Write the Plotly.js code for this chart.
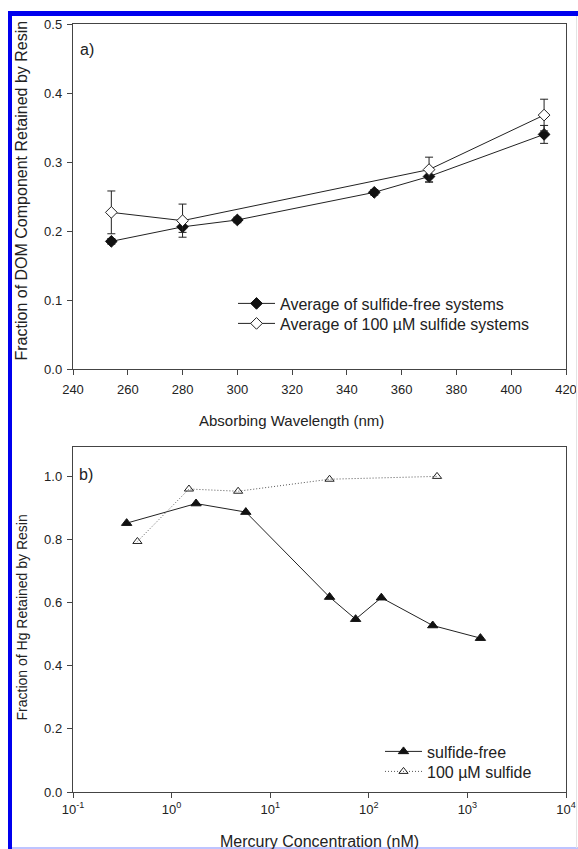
<!DOCTYPE html>
<html>
<head>
<meta charset="utf-8">
<script src="https://cdn.plot.ly/plotly-3.0.1.min.js"></script>
<style>
html,body{margin:0;padding:0;background:#fff;}
#chart{width:578px;height:849px;}
</style>
</head>
<body>
<div id="chart"></div>
<script>
// Panel a: DOM component retained vs absorbing wavelength
const wlFree = [254, 280, 300, 350, 370, 412];
const fracFree = [0.185, 0.206, 0.216, 0.256, 0.279, 0.340];
const errFree = [0.004, 0.008, 0.004, 0.004, 0.008, 0.013];
const wlSulf = [254, 280, 370, 412];
const fracSulf = [0.227, 0.215, 0.289, 0.368];
const errSulf = [0.031, 0.024, 0.018, 0.023];

// Panel b: Hg retained vs mercury concentration (nM)
const hgFreeX = [0.35, 1.77, 5.66, 40, 73.5, 134, 445, 1355];
const hgFreeY = [0.851, 0.913, 0.886, 0.617, 0.547, 0.615, 0.527, 0.487];
const hgSulfX = [0.45, 1.50, 4.73, 40, 492];
const hgSulfY = [0.793, 0.959, 0.952, 0.990, 0.999];

const wlTicks = [240, 260, 280, 300, 320, 340, 360, 380, 400, 420];
const logTickVals = [0.1, 1, 10, 100, 1000, 10000];
const logTickText = ['10<sup>-1</sup>', '10<sup>0</sup>', '10<sup>1</sup>', '10<sup>2</sup>', '10<sup>3</sup>', '10<sup>4</sup>'];

const legendA = ['Average of sulfide-free systems', 'Average of 100 µM sulfide systems'];
const legendB = ['sulfide-free', '100 µM sulfide'];
const titles = {
  xA: 'Absorbing Wavelength (nm)',
  yA: 'Fraction of DOM Component Retained by Resin',
  xB: 'Mercury Concentration (nM)',
  yB: 'Fraction of Hg Retained by Resin'
};

const FONT = 'Liberation Sans, Arial, sans-serif';
const INK = '#222';

const traces = [
  {
    x: wlFree, y: fracFree, xaxis: 'x2', yaxis: 'y2', name: legendA[0], legend: 'legend',
    mode: 'lines+markers', type: 'scatter',
    line: {color: INK, width: 1},
    marker: {symbol: 'diamond', size: 9, color: '#111', line: {color: '#111', width: 1}},
    error_y: {type: 'data', array: errFree, visible: true, color: INK, thickness: 1, width: 4}
  },
  {
    x: wlSulf, y: fracSulf, xaxis: 'x2', yaxis: 'y2', name: legendA[1], legend: 'legend2',
    mode: 'lines+markers', type: 'scatter',
    line: {color: INK, width: 1},
    marker: {symbol: 'diamond', size: 9, color: '#fff', line: {color: INK, width: 1}},
    error_y: {type: 'data', array: errSulf, visible: true, color: INK, thickness: 1, width: 4}
  },
  {
    x: hgFreeX, y: hgFreeY, xaxis: 'x', yaxis: 'y', name: legendB[0], legend: 'legend3',
    mode: 'lines+markers', type: 'scatter',
    line: {color: INK, width: 1},
    marker: {symbol: 'triangle-up', size: 9, color: '#111', line: {color: '#111', width: 1}}
  },
  {
    x: hgSulfX, y: hgSulfY, xaxis: 'x', yaxis: 'y', name: legendB[1], legend: 'legend4',
    mode: 'lines+markers', type: 'scatter',
    line: {color: '#555', width: 1, dash: '1px,2px'},
    marker: {symbol: 'triangle-up-open', size: 8, color: INK, line: {color: INK, width: 1}}
  }
];

// pixel -> paper helpers (plot area: x 73..566, y 24..792)
const L = 73, R = 566, T = 24, B = 792;
const px = v => (v - L) / (R - L);
const py = v => (B - v) / (B - T);

const axisCommon = {
  showline: true, linecolor: '#444', linewidth: 1.2, mirror: true,
  ticks: 'outside', ticklen: 5, tickwidth: 1, tickcolor: '#444',
  showgrid: false, zeroline: false,
  tickfont: {family: FONT, size: 13, color: INK},
  fixedrange: true
};

function label(text, x, y, size, angle) {
  return {text: text, xref: 'paper', yref: 'paper', x: px(x), y: py(y),
    xanchor: 'center', yanchor: 'middle', textangle: angle || 0,
    showarrow: false, font: {family: FONT, size: size, color: INK}};
}

function legendAt(x, rowCenterY) {
  return {
    x: px(x), y: py(rowCenterY - 17.5), xanchor: 'left', yanchor: 'top',
    bgcolor: 'rgba(0,0,0,0)', font: {family: FONT, size: 16, color: INK},
    itemwidth: 37
  };
}

const layout = {
  width: 578, height: 849,
  margin: {l: L, r: 578 - R, t: T, b: 849 - B},
  paper_bgcolor: '#fff', plot_bgcolor: '#fff',
  font: {family: FONT, color: INK},
  showlegend: true,
  xaxis2: Object.assign({}, axisCommon, {
    anchor: 'y2', range: [240, 420], tickvals: wlTicks, ticklabelstandoff: 3
  }),
  yaxis2: Object.assign({}, axisCommon, {
    anchor: 'x2', domain: [py(369), 1], range: [0, 0.5], dtick: 0.1, tickformat: '.1f',
    ticklabelstandoff: 2
  }),
  xaxis: Object.assign({}, axisCommon, {
    anchor: 'y', type: 'log', range: [-1, 4], tickvals: logTickVals, ticktext: logTickText
  }),
  yaxis: Object.assign({}, axisCommon, {
    anchor: 'x', domain: [0, py(447)], range: [0, 1.092], dtick: 0.2, tickformat: '.1f',
    ticklabelstandoff: 2
  }),
  legend: legendAt(233, 304),
  legend2: legendAt(233, 324),
  legend3: legendAt(380, 752),
  legend4: legendAt(380, 772),
  annotations: [
    label('a)', 87, 49, 16),
    label('b)', 86, 474, 16),
    label(titles.xA, 291.5, 421, 15),
    label(titles.yA, 21.5, 191, 16, -90),
    label(titles.xB, 319, 841, 16),
    label(titles.yB, 21.5, 618, 14, -90)
  ],
  shapes: [
    {type: 'rect', xref: 'paper', yref: 'paper', x0: px(8), x1: px(578), y0: py(16), y1: py(11),
     fillcolor: '#0000ee', line: {width: 0}, layer: 'above'},
    {type: 'rect', xref: 'paper', yref: 'paper', x0: px(8), x1: px(12), y0: py(849), y1: py(11),
     fillcolor: '#0000ee', line: {width: 0}, layer: 'above'},
    {type: 'line', xref: 'paper', yref: 'paper', x0: px(12), x1: px(578), y0: py(848), y1: py(848),
     line: {color: '#a8b0ff', width: 1.5}, layer: 'above'},
    {type: 'line', xref: 'paper', yref: 'paper', x0: px(576.5), x1: px(576.5), y0: py(16), y1: py(848),
     line: {color: '#e4e4e4', width: 1}, layer: 'above'}
  ]
};

Plotly.newPlot('chart', traces, layout, {staticPlot: true, displayModeBar: false});
</script>
</body>
</html>
